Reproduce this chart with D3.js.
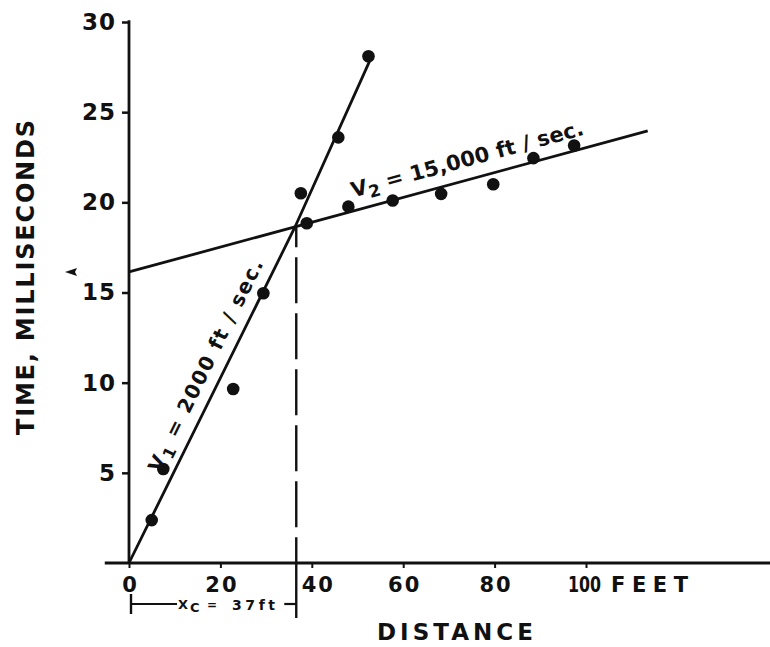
<!DOCTYPE html>
<html><head><meta charset="utf-8">
<script src="https://cdn.jsdelivr.net/npm/d3@7"></script>
<style>body{margin:0;background:#fff}svg{display:block}</style>
</head><body>
<svg id="c" width="770" height="647"></svg>
<script>
// ---- data ----
const xTicks = [0, 20, 40, 60, 80, 100];
const yTicks = [5, 10, 15, 20, 25, 30];
const pointsDist = [4.97, 7.5, 22.8, 29.4, 37.6, 38.9, 45.8, 52.4, 48.0, 57.7, 68.3, 79.7, 88.5, 97.4];
const pointsTime = [2.38, 5.21, 9.65, 14.96, 20.5, 18.84, 23.6, 28.1, 19.76, 20.1, 20.47, 21.0, 22.45, 23.15];
const v1LineDist = [0, 36.3, 52.6];
const v1LineTime = [0, 18.62, 27.8];
const v2LineDist = [0, 113.5];
const v2LineTime = [16.14, 23.96];
const crossoverDist = 36.6;
const crossoverTime = 18.62;
const xTitle = "DISTANCE";
const yTitle = "TIME, MILLISECONDS";
const unitLabel = "FEET";
const v1Label = ["V", "1", " = 2000 ft / sec."];
const v2Label = ["V", "2", " = 15,000 ft / sec."];
const xcLabel = ["X", "C", "=", "37ft"];

const W = 770, H = 647;
const FONT = "DejaVu Sans";
const INK = "#111";
const svg = d3.select("#c");
svg.append("rect").attr("width", W).attr("height", H).attr("fill", "#fff");

const x = d3.scaleLinear().domain([0, 100]).range([129, 586]);
const y = d3.scaleLinear().domain([0, 30]).range([563, 22]);
const axisY = y(0), axisX = x(0);

// ---- axes ----
const gx = svg.append("g").attr("transform", `translate(0,${axisY})`)
  .call(d3.axisBottom(x).tickValues(xTicks).tickSize(5).tickPadding(9).tickFormat(d3.format("d")));
gx.select(".domain").remove();
gx.selectAll(".tick line").attr("stroke", INK).attr("stroke-width", 2);
gx.selectAll(".tick text").attr("fill", INK).attr("font-family", FONT).attr("font-weight", "bold")
  .attr("font-size", 21)
  .style("letter-spacing", d => d === 100 ? "0px" : "2px")
  .attr("textLength", d => d === 100 ? 33 : null)
  .attr("lengthAdjust", "spacingAndGlyphs")
  .attr("dx", d => d === 40 ? 6 : (d === 100 ? -2 : 1));

const gy = svg.append("g").attr("transform", `translate(${axisX},0)`)
  .call(d3.axisLeft(y).tickValues(yTicks).tickSize(7).tickPadding(6).tickFormat(d3.format("d")));
gy.select(".domain").remove();
gy.selectAll(".tick line").attr("stroke", INK).attr("stroke-width", 2.5);
gy.selectAll(".tick text").attr("fill", INK).attr("font-family", FONT).attr("font-weight", "bold")
  .attr("font-size", 23).style("letter-spacing", "1px");

// axis lines
svg.append("line").attr("x1", x(-5.3)).attr("x2", W).attr("y1", axisY).attr("y2", axisY)
  .attr("stroke", INK).attr("stroke-width", 2.8);
svg.append("line").attr("x1", axisX).attr("x2", axisX).attr("y1", y(30.1)).attr("y2", axisY)
  .attr("stroke", INK).attr("stroke-width", 2.8);

// unit label
svg.append("text").attr("x", x(100) + 25).attr("y", axisY + 29)
  .attr("font-family", FONT).attr("font-weight", "bold").attr("font-size", 21).attr("fill", INK)
  .attr("textLength", 77).attr("lengthAdjust", "spacing").text(unitLabel);

// axis titles
svg.append("text").attr("x", 455).attr("y", axisY + 77).attr("text-anchor", "middle")
  .attr("font-family", FONT).attr("font-weight", "bold").attr("font-size", 23).attr("fill", INK)
  .attr("textLength", 156).attr("lengthAdjust", "spacing").text(xTitle);
svg.append("text").attr("transform", `translate(34,${(y(30) + axisY) / 2 - 15}) rotate(-90)`)
  .attr("text-anchor", "middle")
  .attr("font-family", FONT).attr("font-weight", "bold").attr("font-size", 24).attr("fill", INK)
  .attr("textLength", 315).attr("lengthAdjust", "spacing").text(yTitle);

// ---- lines ----
const line = d3.line().x(d => x(d[0])).y(d => y(d[1]));
const v1 = v1LineDist.map((d, i) => [d, v1LineTime[i]]);
const v2 = v2LineDist.map((d, i) => [d, v2LineTime[i]]);
svg.append("path").attr("d", line(v1)).attr("fill", "none").attr("stroke", INK).attr("stroke-width", 2.8);
svg.append("path").attr("d", line(v2)).attr("fill", "none").attr("stroke", INK).attr("stroke-width", 2.8);

// crossover dashed line
svg.append("line").attr("x1", x(crossoverDist)).attr("x2", x(crossoverDist))
  .attr("y1", y(crossoverTime)).attr("y2", axisY)
  .attr("stroke", INK).attr("stroke-width", 2.4).attr("stroke-dasharray", "46,10").attr("stroke-dashoffset", 26);
svg.append("line").attr("x1", x(crossoverDist)).attr("x2", x(crossoverDist))
  .attr("y1", axisY).attr("y2", axisY + 55).attr("stroke", INK).attr("stroke-width", 2.4);

// bracket x_c
const by = axisY + 41;
svg.append("line").attr("x1", axisX + 2).attr("x2", axisX + 2).attr("y1", by - 10).attr("y2", by + 10)
  .attr("stroke", INK).attr("stroke-width", 2.4);
svg.append("line").attr("x1", axisX + 2).attr("x2", axisX + 48).attr("y1", by).attr("y2", by)
  .attr("stroke", INK).attr("stroke-width", 2.2);
svg.append("line").attr("x1", x(crossoverDist) - 12).attr("x2", x(crossoverDist)).attr("y1", by).attr("y2", by)
  .attr("stroke", INK).attr("stroke-width", 2.2);
const xcStyle = s => s.attr("font-family", FONT).attr("font-weight", "bold").attr("fill", INK);
xcStyle(svg.append("text")).attr("x", axisX + 49).attr("y", by + 5).attr("font-size", 13).text(xcLabel[0]);
xcStyle(svg.append("text")).attr("x", axisX + 61).attr("y", by + 8).attr("font-size", 13).text(xcLabel[1]);
xcStyle(svg.append("text")).attr("x", axisX + 78).attr("y", by + 5).attr("font-size", 12).text(xcLabel[2]);
xcStyle(svg.append("text")).attr("x", axisX + 103).attr("y", by + 6).attr("font-size", 14)
  .attr("textLength", 43).attr("lengthAdjust", "spacing").text(xcLabel[3]);

// intercept marker
const iy = y(v2LineTime[0]);
svg.append("path").attr("d", `M65,${iy} L77,${iy - 4} L75,${iy} L77,${iy + 4} Z`).attr("fill", INK);

// ---- points ----
svg.append("g").selectAll("circle").data(pointsDist.map((d, i) => [d, pointsTime[i]])).join("circle")
  .attr("cx", d => x(d[0])).attr("cy", d => y(d[1])).attr("r", 6.3).attr("fill", INK);

// ---- line labels ----
function lineLabel(p0, p1, parts, along, perp, len, fs) {
  const X0 = x(p0[0]), Y0 = y(p0[1]), X1 = x(p1[0]), Y1 = y(p1[1]);
  const ang = Math.atan2(Y1 - Y0, X1 - X0);
  const px = X0 + Math.cos(ang) * along, py = Y0 + Math.sin(ang) * along;
  const t = svg.append("text")
    .attr("transform", `translate(${px},${py}) rotate(${ang * 180 / Math.PI})`)
    .attr("x", 0).attr("y", -perp)
    .attr("font-family", FONT).attr("font-weight", "bold").attr("font-size", fs).attr("fill", INK)
    .attr("textLength", len).attr("lengthAdjust", "spacing");
  t.append("tspan").text(parts[0]);
  t.append("tspan").attr("dy", 5).attr("font-size", fs * 0.8).text(parts[1]);
  t.append("tspan").attr("dy", -5).text(parts[2]);
}
lineLabel(v1[0], v1[1], v1Label, 94, 12, 234, 20);
lineLabel(v2[0], v2[1], v2Label, 236, 13, 240, 21);
</script>
</body></html>
